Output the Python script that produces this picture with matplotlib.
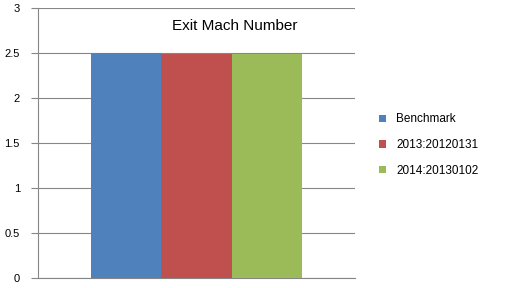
import matplotlib
matplotlib.use("Agg")
import matplotlib.pyplot as plt

plt.rcParams["font.family"] = ["Liberation Sans", "DejaVu Sans"]

SERIES = ["Benchmark", "2013:20120131", "2014:20130102"]
VALUES = [2.5, 2.485, 2.49]
COLORS = ["#4F81BD", "#C0504D", "#9BBB59"]
YTICKS = [0, 0.5, 1, 1.5, 2, 2.5, 3]
YTICK_LABELS = ["0", "0.5", "1", "1.5", "2", "2.5", "3"]

fig = plt.figure(figsize=(5.1, 2.88), dpi=100)
ax = fig.add_axes([38 / 510, 10 / 288, (355 - 38) / 510, (278 - 8) / 288])

width = 0.222
for i, (name, val, col) in enumerate(zip(SERIES, VALUES, COLORS)):
    ax.bar((i - 1) * width, val, width=width, color=col, label=name, zorder=3)

ax.set_xlim(-0.5, 0.5)
ax.set_ylim(0, 3)
ax.set_yticks(YTICKS)
ax.set_yticklabels(YTICK_LABELS, fontsize=8)
ax.set_xticks([])
ax.grid(axis="y", color="#868686", linewidth=0.8, zorder=0)
for side in ["top", "right"]:
    ax.spines[side].set_visible(False)
ax.spines["left"].set_color("#868686")
ax.spines["bottom"].set_color("#868686")
ax.tick_params(axis="y", length=5, color="#868686", pad=8)

ax.text(0.12, 2.8, "Exit Mach Number", fontsize=11, ha="center", va="center")

fig.legend(loc="center left", bbox_to_anchor=(368 / 510, 1 - 145 / 288), frameon=False,
           fontsize=8.5, handlelength=0.6, handleheight=0.6, handletextpad=0.9,
           labelspacing=1.15)

fig.savefig("out.png", dpi=100)
